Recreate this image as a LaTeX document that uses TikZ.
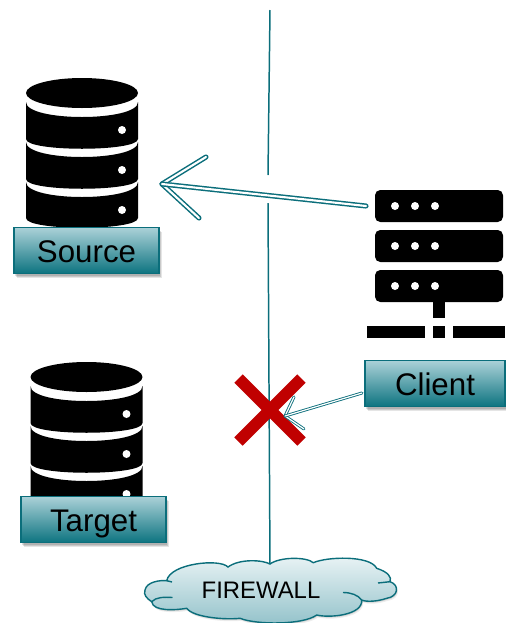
\documentclass[tikz,border=0pt]{standalone}
\usepackage{fontspec}
\setmainfont{Liberation Sans}
\usetikzlibrary{shadows}
\definecolor{fwteal}{HTML}{0B6E7B}
\definecolor{boxlight}{HTML}{ABD1D8}
\definecolor{boxmid}{HTML}{7FB2BB}
\definecolor{boxdark}{HTML}{0D7480}
\definecolor{crossred}{HTML}{C00000}
\begin{document}
\begin{tikzpicture}[x=0.02cm,y=-0.02cm]
\tikzset{
    softshadow/.style={
        drop shadow={shadow xshift=0.6pt,shadow yshift=-1.2pt,opacity=.12,fill=black},
        drop shadow={shadow xshift=1.2pt,shadow yshift=-1.8pt,opacity=.12,fill=black},
        drop shadow={shadow xshift=1.8pt,shadow yshift=-2.6pt,opacity=.10,fill=black}
    },
    cloudshadow/.style={
        drop shadow={shadow xshift=0.4pt,shadow yshift=-0.8pt,opacity=.10,fill=black},
        drop shadow={shadow xshift=0.8pt,shadow yshift=-1.4pt,opacity=.07,fill=black}
    },
    labelbox/.style={
        draw=fwteal,line width=0.8pt,softshadow,
        top color=boxlight,middle color=boxmid,bottom color=boxdark,
        minimum width=2.9cm,minimum height=0.92cm,inner sep=0pt,
        text height=16pt,text depth=2.4pt,
        font=\fontsize{17.8}{20}\selectfont
    },
    hollowline/.style={draw=fwteal,double=white,double distance=1.2pt,line width=0.85pt,line cap=round,line join=round},
    thinhollow/.style={draw=fwteal,double=white,double distance=0.7pt,line width=0.5pt,line cap=round,line join=round},
    pics/dbicon/.style={code={
        \fill[black] (0,0) ellipse [x radius=56,y radius=15];
        \foreach \t/\b in {9/46,49/86,89/125}
            \fill[black] (-56,\t) .. controls +(0,20) and +(0,20) .. (56,\t) -- (56,\b) .. controls +(0,13) and +(0,13) .. (-56,\b) -- cycle;
        \foreach \d in {37,77,117}
            \fill[white] (40,\d) circle [radius=4];
    }}
}
\useasboundingbox (0,0) rectangle (505,623);

% firewall line
\draw[fwteal,line width=0.85pt] (270,10) -- (268,175);
\draw[fwteal,line width=0.85pt] (268,203) -- (270,565);

% databases
\pic at (82,93) {dbicon};
\pic at (86.5,377) {dbicon};
\node[labelbox] (Source) at (86.5,250.5) {Source};
\node[labelbox] (Target) at (93.5,519.5) {Target};

% server
\foreach \y in {190,230,270} {
    \fill[black,rounded corners=3pt] (375,\y) rectangle (503,\y+32);
    \foreach \x in {395,415,435}
        \fill[white] (\x,\y+16) circle [radius=4];
}
\fill[black] (433,302) rectangle (445,318);
\fill[black] (367,326) rectangle (425,338);
\fill[black] (433,326) rectangle (445,338);
\fill[black] (453,326) rectangle (505,338);
\node[labelbox,minimum width=2.8cm] (Client) at (435,383.5) {Client};

% arrow to source
\coordinate (bigtail) at (366,206);
\coordinate (bigtip) at (162,184);
\coordinate (bigup) at (206,157);
\coordinate (bigdown) at (199,218);
\draw[hollowline] (bigup) -- (bigtip) -- (bigdown);
\draw[hollowline] (bigtail) -- (bigtip);

% blocked connection
\draw[crossred,line width=6.8pt] (238.5,378.5) -- (301.5,441.5);
\draw[crossred,line width=6.8pt] (301.5,378.5) -- (238.5,441.5);
\coordinate (smalltail) at (362,393);
\coordinate (smalltip) at (285,416);
\coordinate (smallup) at (294,397);
\coordinate (smalldown) at (304,429);
\draw[thinhollow] (smallup) -- (smalltip) -- (smalldown);
\draw[thinhollow] (smalltail) -- (smalltip);

% cloud
\draw[fwteal,line width=0.8pt,cloudshadow,top color=boxlight!25,bottom color=boxlight!85!fwteal]
    (145,590) .. controls (146.7,581.7) and (160,580) .. (166.7,580.7)
    .. controls (170,563.3) and (220,558.3) .. (228,567)
    .. controls (240,558.3) and (263,560) .. (270,564)
    .. controls (280,556.7) and (306.7,556.7) .. (313.3,562.7)
    .. controls (326.7,556.7) and (370,555) .. (376.7,568.3)
    .. controls (388,572) and (392,577) .. (390,581.7)
    .. controls (400,585) and (398.3,596.7) .. (386.7,598.3)
    .. controls (376.7,601.7) and (366,602) .. (361.7,600)
    .. controls (363,615) and (330,618.3) .. (316.7,615)
    .. controls (303.3,625) and (256.7,625) .. (240,618.3)
    .. controls (223,620) and (193,617) .. (186.7,608.3)
    .. controls (176.7,610) and (153,612) .. (151.7,601.7)
    .. controls (146.7,598.3) and (143.3,595) .. (145,590) -- cycle;
\draw[fwteal,line width=0.8pt] (151.7,601.7) .. controls (156,597) and (164,597) .. (172.5,597.5);
\draw[fwteal,line width=0.8pt] (166.7,580.7) -- (172,582);
\draw[fwteal,line width=0.8pt] (343,592.5) .. controls (351,592.5) and (358,595) .. (361.7,600);
\draw[fwteal,line width=0.8pt] (378,583) -- (390,581.7);
\node[font=\fontsize{13.6}{16}\selectfont] (Firewall) at (261,590) {FIREWALL};
\end{tikzpicture}
\end{document}
